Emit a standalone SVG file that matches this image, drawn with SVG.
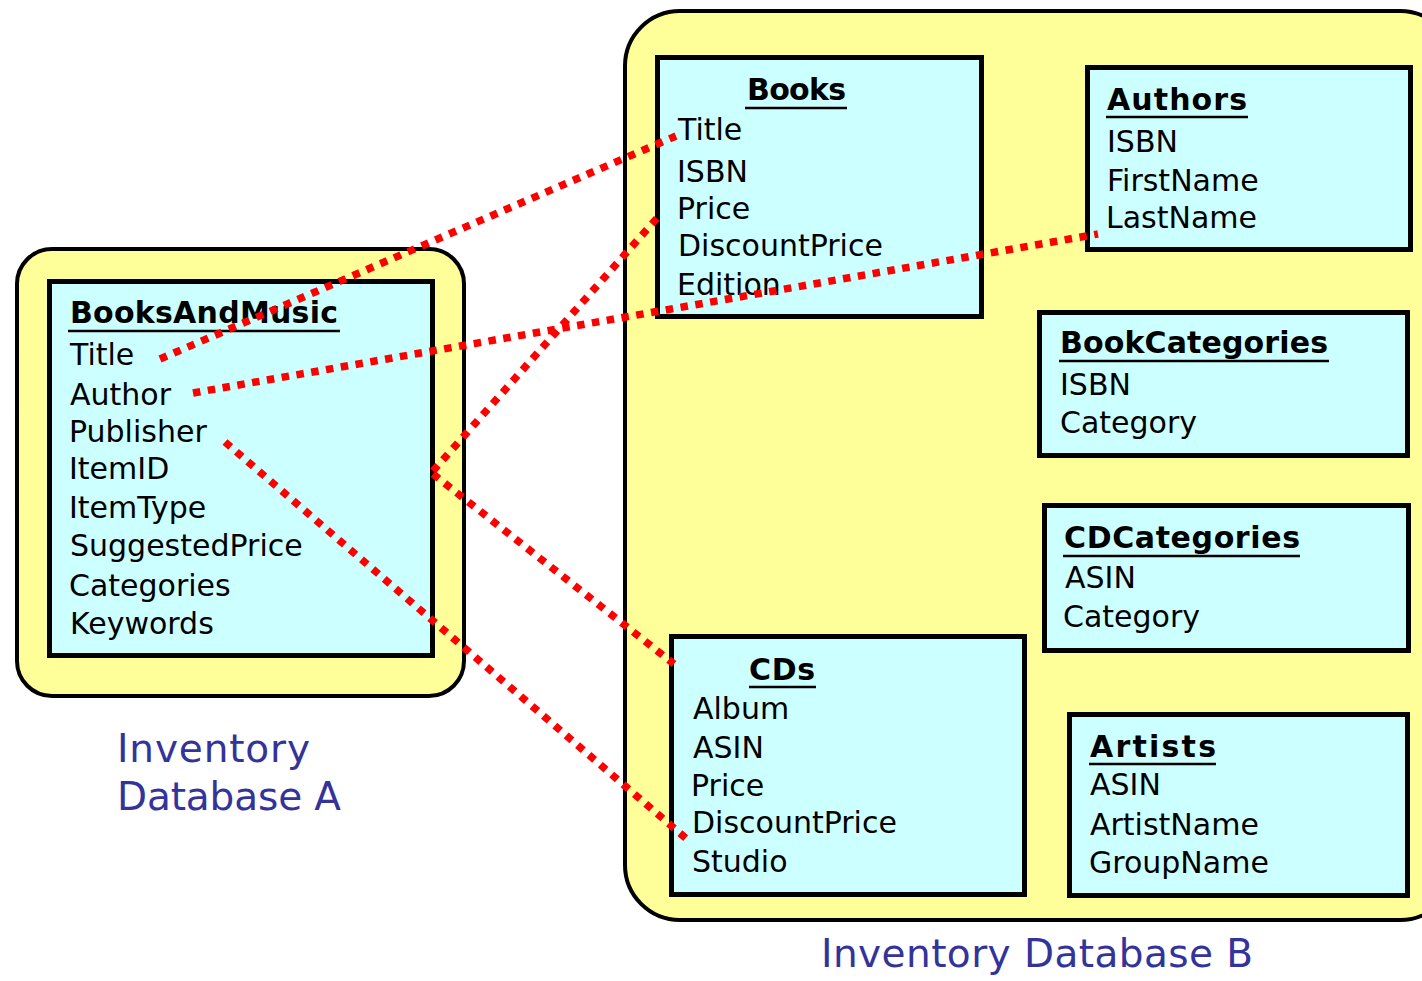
<svg xmlns="http://www.w3.org/2000/svg" width="1422" height="981" viewBox="0 0 1422 981">
<style>
.db{fill:#FFFF99;stroke:#000;stroke-width:4}
.tbl{fill:#CCFFFF;stroke:#000;stroke-width:5}
.hd{font-family:"Comic Sans MS","DejaVu Sans",sans-serif;font-size:30px;font-weight:bold;fill:#000}
.it{font-family:"Comic Sans MS","DejaVu Sans",sans-serif;font-size:30px;fill:#000}
.ul{stroke:#000;stroke-width:2.5}
.lbl{font-family:"Comic Sans MS","DejaVu Sans",sans-serif;font-size:39px;fill:#333399}
.con{fill:none;stroke:#FF0000;stroke-width:7.5;stroke-dasharray:7.5 7.5}
</style>
<rect width="1422" height="981" fill="#fff"/>
<g id="databaseA">
<rect class="db" x="17" y="249" width="447" height="447" rx="35"/>
<text class="lbl" x="117" y="762" textLength="193" lengthAdjust="spacing">Inventory</text>
<text class="lbl" x="117" y="810" textLength="224" lengthAdjust="spacing">Database A</text>
</g>
<g id="databaseB">
<rect class="db" x="625" y="11" width="830" height="909" rx="55"/>
<text class="lbl" x="821" y="967" textLength="432" lengthAdjust="spacing">Inventory Database B</text>
</g>
<g id="BooksAndMusic">
<rect class="tbl" x="49.5" y="281.5" width="383" height="374"/>
<text class="hd" x="70" y="323" textLength="268" lengthAdjust="spacing">BooksAndMusic</text>
<line class="ul" x1="68" y1="331" x2="340" y2="331"/>
<text class="it" x="70" y="365">Title</text>
<text class="it" x="70" y="405">Author</text>
<text class="it" x="69" y="442">Publisher</text>
<text class="it" x="69" y="479">ItemID</text>
<text class="it" x="69" y="518">ItemType</text>
<text class="it" x="70" y="556">SuggestedPrice</text>
<text class="it" x="69" y="596">Categories</text>
<text class="it" x="70" y="634">Keywords</text>
</g>
<g id="Books">
<rect class="tbl" x="657.5" y="57.5" width="324" height="259"/>
<text class="hd" x="747" y="100" textLength="99" lengthAdjust="spacing">Books</text>
<line class="ul" x1="745" y1="108" x2="847" y2="108"/>
<text class="it" x="678" y="140">Title</text>
<text class="it" x="677" y="182">ISBN</text>
<text class="it" x="677" y="219">Price</text>
<text class="it" x="678" y="256">DiscountPrice</text>
<text class="it" x="677" y="295">Edition</text>
</g>
<g id="Authors">
<rect class="tbl" x="1087.5" y="67.5" width="323" height="182"/>
<text class="hd" x="1107" y="110" textLength="140" lengthAdjust="spacing">Authors</text>
<line class="ul" x1="1106" y1="117" x2="1248" y2="117"/>
<text class="it" x="1107" y="152">ISBN</text>
<text class="it" x="1107" y="191">FirstName</text>
<text class="it" x="1106" y="228">LastName</text>
</g>
<g id="BookCategories">
<rect class="tbl" x="1039.5" y="312.5" width="368" height="143"/>
<text class="hd" x="1060" y="353" textLength="268" lengthAdjust="spacing">BookCategories</text>
<line class="ul" x1="1059" y1="361" x2="1329" y2="361"/>
<text class="it" x="1060" y="395">ISBN</text>
<text class="it" x="1060" y="433">Category</text>
</g>
<g id="CDCategories">
<rect class="tbl" x="1044.5" y="505.5" width="364" height="145"/>
<text class="hd" x="1064" y="548" textLength="236" lengthAdjust="spacing">CDCategories</text>
<line class="ul" x1="1063" y1="556" x2="1300" y2="556"/>
<text class="it" x="1065" y="588">ASIN</text>
<text class="it" x="1063" y="627">Category</text>
</g>
<g id="CDs">
<rect class="tbl" x="671.5" y="636.5" width="353" height="258"/>
<text class="hd" x="749" y="680" textLength="66" lengthAdjust="spacing">CDs</text>
<line class="ul" x1="749" y1="687" x2="816" y2="687"/>
<text class="it" x="693" y="719">Album</text>
<text class="it" x="693" y="758">ASIN</text>
<text class="it" x="691" y="796">Price</text>
<text class="it" x="692" y="833">DiscountPrice</text>
<text class="it" x="692" y="872">Studio</text>
</g>
<g id="Artists">
<rect class="tbl" x="1069.5" y="714.5" width="338" height="181"/>
<text class="hd" x="1090" y="757" textLength="126" lengthAdjust="spacing">Artists</text>
<line class="ul" x1="1089" y1="764" x2="1216" y2="764"/>
<text class="it" x="1090" y="795">ASIN</text>
<text class="it" x="1090" y="835">ArtistName</text>
<text class="it" x="1089" y="873">GroupName</text>
</g>
<g id="connectors">
<path class="con" d="M160 359 L676 136"/>
<path class="con" d="M193 393 L1098 234"/>
<path class="con" d="M225 442 L689 841"/>
<path class="con" d="M433 471 L658 217"/>
<path class="con" d="M433 474 L674 664"/>
</g>
</svg>
